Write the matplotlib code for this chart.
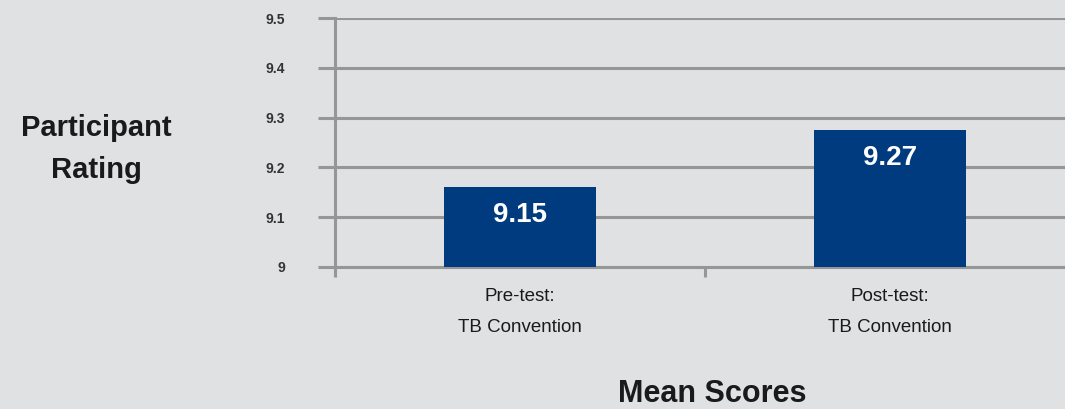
import matplotlib.pyplot as plt
import numpy as np

# data
categories = ["Pre-test:\nTB Convention", "Post-test:\nTB Convention"]
scores = [9.16, 9.275]          # bar heights as drawn
score_labels = ["9.15", "9.27"]  # labels printed on the bars
yticks = [9.0, 9.1, 9.2, 9.3, 9.4, 9.5]
ytick_labels = ["9", "9.1", "9.2", "9.3", "9.4", "9.5"]

bg = "#e0e1e3"
grid_col = "#969696"
bar_col = "#003b80"
txt_col = "#1a1a1a"

plt.rcParams['font.family'] = ['Liberation Sans', 'DejaVu Sans']

fig = plt.figure(figsize=(10.65, 4.09), dpi=100)
fig.patch.set_facecolor(bg)

# axes runs a bit past the right edge like the original
ax = fig.add_axes([335 / 1065, 142 / 409, 740 / 1065, 249 / 409])
ax.set_facecolor(bg)

x = np.arange(len(categories))
ax.bar(x, scores, width=0.41, color=bar_col, zorder=3)

for xi, val, lab in zip(x, scores, score_labels):
    ax.annotate(lab, (xi, val), xytext=(0, -28), textcoords='offset pixels',
                ha='center', va='center', color='white', fontsize=20,
                fontweight='bold', zorder=4)

ax.set_ylim(9.0, 9.5)
ax.set_xlim(-0.5, 1.5)
ax.set_yticks(yticks)
ax.set_yticklabels(ytick_labels, fontsize=10, color='#333333', fontweight='bold')
ax.yaxis.grid(True, color=grid_col, linewidth=2.2, zorder=1)

# category ticks sit between bars
ax.set_xticks([-0.5, 0.5, 1.5])
ax.set_xticklabels([])
ax.set_xticks(x, minor=True)
ax.set_xticklabels(categories, minor=True, fontsize=13.5, color=txt_col,
                   linespacing=2.1)
ax.tick_params(axis='x', which='minor', length=0, pad=15)
ax.tick_params(axis='x', which='major', length=7, width=2.2, color=grid_col)
ax.tick_params(axis='y', length=12, width=2.2, color=grid_col, pad=24)

for side in ['top', 'right']:
    ax.spines[side].set_visible(False)
ax.spines['left'].set_color(grid_col)
ax.spines['left'].set_linewidth(2.2)
ax.spines['left'].set_bounds(8.983, 9.5)
ax.spines['bottom'].set_color(grid_col)
ax.spines['bottom'].set_linewidth(2.2)

# y-axis title, two lines
fig.text(96 / 1065, 1 - 136 / 409, "Participant", ha='center', va='baseline',
         fontsize=21, fontweight='bold', color=txt_col)
fig.text(96 / 1065, 1 - 178 / 409, "Rating", ha='center', va='baseline',
         fontsize=21, fontweight='bold', color=txt_col)
fig.text(712 / 1065, 1 - 402 / 409, "Mean Scores", ha='center', va='baseline',
         fontsize=22, fontweight='bold', color=txt_col)

fig.savefig("out.png", dpi=100, facecolor=bg)
